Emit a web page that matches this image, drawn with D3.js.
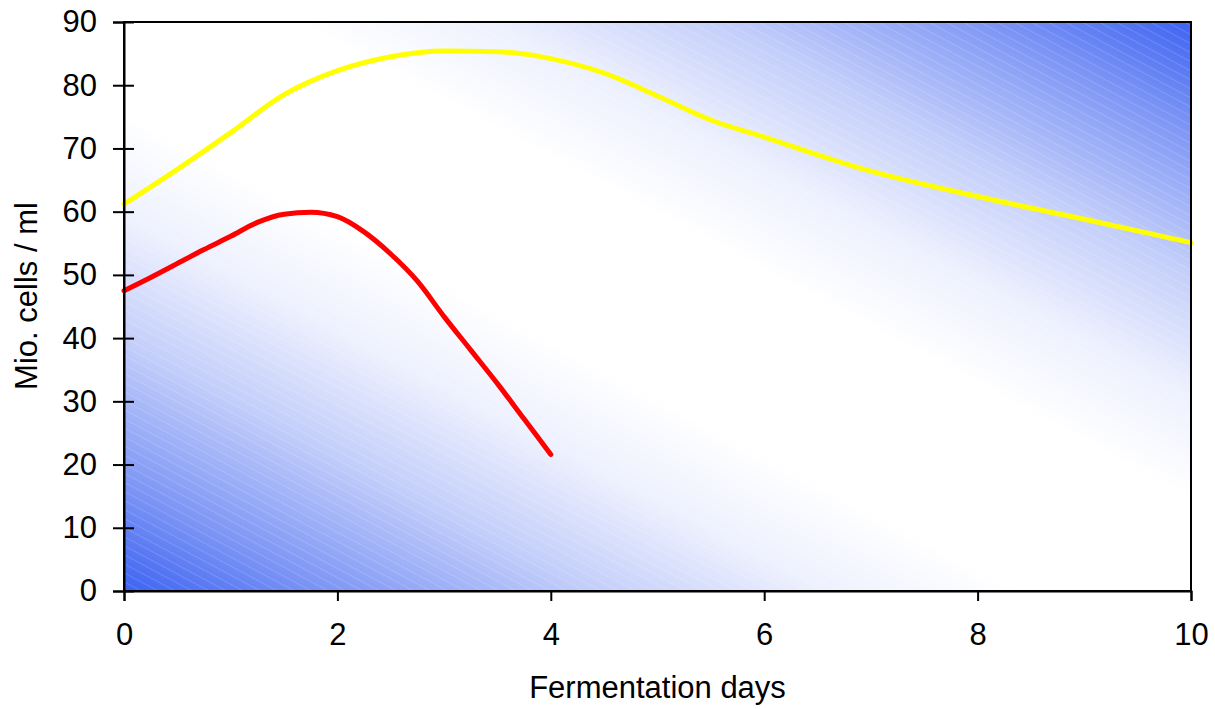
<!DOCTYPE html>
<html>
<head>
<meta charset="utf-8">
<script src="https://cdn.jsdelivr.net/npm/d3@7"></script>
<style>
  body { margin: 0; background: #fff; }
  text { font-family: "Liberation Sans", Arial, sans-serif; fill: #000; }
</style>
</head>
<body>
<svg id="chart"></svg>
<script>
// cell counts during fermentation

// DATA
var yellowDays = [0, 0.5, 1, 1.5, 2, 2.5, 3, 3.5, 4, 4.5, 5, 5.5, 6, 7, 8, 9, 10];
var yellowCells = [61.2, 66.7, 72.5, 78.5, 82.3, 84.5, 85.4, 85.3, 84.2, 81.9, 78.3, 74.5, 71.8, 66.4, 62.4, 58.8, 55.1];

var redDays = [0, 0.25, 0.5, 0.75, 1, 1.25, 1.5, 1.75, 2, 2.25, 2.5, 2.75, 3, 3.25, 3.5, 3.75, 4];
var redCells = [47.5, 49.6, 51.8, 54, 56.1, 58.3, 59.6, 59.9, 59.2, 56.8, 53.3, 49, 43.4, 38.1, 32.8, 27.2, 21.6];

var xTicks = [0, 2, 4, 6, 8, 10];
var yTicks = [0, 10, 20, 30, 40, 50, 60, 70, 80, 90];

// chart area
var width = 1215;
var height = 709;

var margin = {
    top: 22,
    right: 24,
    bottom: 118,
    left: 124
};

var svg = d3.select("#chart")
    .attr("width", width)
    .attr("height", height);

// SCALES
var x = d3.scaleLinear()
    .domain([0, 10])
    .range([margin.left, width - margin.right]);

var y = d3.scaleLinear()
    .domain([0, 90])
    .range([height - margin.bottom, margin.top]);

// BACKGROUND
var defs = svg.append("defs");

var grad = defs.append("linearGradient")
    .attr("id", "bg")
    .attr("x1", 0).attr("y1", 1)
    .attr("x2", 1).attr("y2", 0);
[[0, "#3d63f2"], [0.1, "#8098f5"], [0.22, "#c3cefa"], [0.33, "#eef1fe"], [0.42, "#ffffff"],
 [0.58, "#ffffff"], [0.67, "#eef1fe"], [0.78, "#c3cefa"], [0.9, "#8098f5"], [1, "#3d63f2"]]
    .forEach(function(s) {
        grad.append("stop").attr("offset", s[0]).attr("stop-color", s[1]);
    });

var hatch = defs.append("pattern")
    .attr("id", "hatch")
    .attr("patternUnits", "userSpaceOnUse")
    .attr("width", 8).attr("height", 8)
    .attr("patternTransform", "rotate(-62)");
hatch.append("line")
    .attr("x1", 0).attr("y1", 0)
    .attr("x2", 0).attr("y2", 8)
    .style("stroke", "#ffffff")
    .style("stroke-width", 2)
    .style("opacity", 0.15);

var plotW = x(10) - x(0);
var plotH = y(0) - y(90);

svg.append("rect")
    .attr("x", x(0)).attr("y", y(90))
    .attr("width", plotW).attr("height", plotH)
    .style("fill", "url(#bg)");

svg.append("rect")
    .attr("x", x(0)).attr("y", y(90))
    .attr("width", plotW).attr("height", plotH)
    .style("fill", "url(#hatch)");

// LINES
var line = d3.line()
    .x(d => x(d[0]))
    .y(d => y(d[1]))
    .curve(d3.curveMonotoneX);

svg.append("path")
    .datum(d3.zip(yellowDays, yellowCells))
    .attr("d", line)
    .style("fill", "none")
    .style("stroke", "#ffff00")
    .style("stroke-width", 5)
    .style("stroke-linecap", "round");

svg.append("path")
    .datum(d3.zip(redDays, redCells))
    .attr("d", line)
    .style("fill", "none")
    .style("stroke", "#ff0000")
    .style("stroke-width", 5)
    .style("stroke-linecap", "round");

// FRAME
svg.append("rect")
    .attr("x", x(0)).attr("y", y(90))
    .attr("width", plotW).attr("height", plotH)
    .style("fill", "none")
    .style("stroke", "#000")
    .style("stroke-width", 2);

// AXES
var xAxis = svg.append("g")
    .attr("transform", "translate(0," + y(0) + ")")
    .call(d3.axisBottom(x)
        .tickValues(xTicks)
        .tickSize(10)
        .tickPadding(22)
        .tickFormat(d3.format("d")));

var yAxis = svg.append("g")
    .attr("transform", "translate(" + x(0) + ",0)")
    .call(d3.axisLeft(y)
        .tickValues(yTicks)
        .tickSize(11)
        .tickPadding(16)
        .tickFormat(d3.format("d")));

// y ticks cross into the plot
yAxis.selectAll(".tick line").attr("x2", 10).attr("x1", -11);

[xAxis, yAxis].forEach(function(a) {
    a.select(".domain").style("stroke", "#000").style("stroke-width", 2);
    a.selectAll(".tick line").style("stroke", "#000").style("stroke-width", 2);
    a.selectAll(".tick text")
        .style("font-size", "31px")
        .style("font-family", "'Liberation Sans', Arial, sans-serif")
        .style("fill", "#000");
});

// AXIS TITLES
svg.append("text")
    .attr("x", (x(0) + x(10)) / 2)
    .attr("y", 698)
    .attr("text-anchor", "middle")
    .style("font-size", "31px")
    .text("Fermentation days");

svg.append("text")
    .attr("transform", "translate(37,296) rotate(-90)")
    .attr("text-anchor", "middle")
    .style("font-size", "31px")
    .text("Mio. cells / ml");
</script>
</body>
</html>
